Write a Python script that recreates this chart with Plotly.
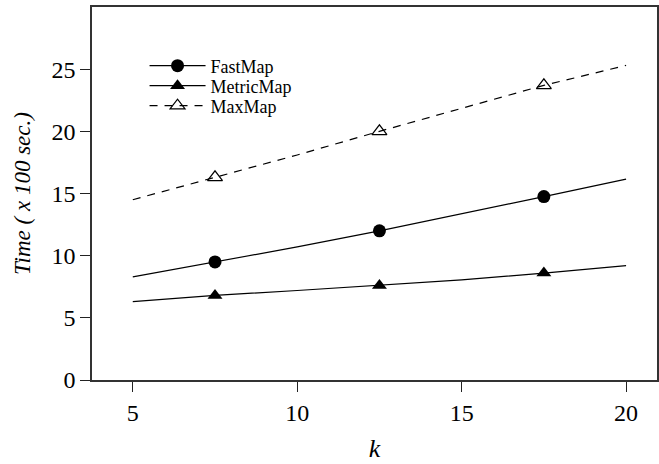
import plotly.graph_objects as go

k = [5, 7.5, 10, 12.5, 15, 17.5, 20]
fastmap = [8.3, 9.5, 10.7, 12.0, 13.35, 14.75, 16.15]
metricmap = [6.3, 6.8, 7.2, 7.6, 8.05, 8.6, 9.2]
maxmap = [14.5, 16.3, 18.1, 20.0, 21.85, 23.7, 25.3]
marked_points = [1, 3, 5]   # indices of k where markers are drawn (7.5, 12.5, 17.5)

x_ticks = [5, 10, 15, 20]
y_ticks = [0, 5, 10, 15, 20, 25]

FONT = "Liberation Serif, Times New Roman, serif"

fig = go.Figure()
series = [
    ("FastMap", fastmap, "circle", "solid", "legend"),
    ("MetricMap", metricmap, "triangle-up", "solid", "legend2"),
    ("MaxMap", maxmap, "triangle-up-open", "8px,7px", "legend3"),
]
for name, vals, sym, dash, leg in series:
    fig.add_trace(go.Scatter(
        x=k, y=vals, name=name, mode="lines+markers", legend=leg,
        line=dict(color="black", width=1.2, dash=dash),
        marker=dict(symbol=sym, size=13, color="black", opacity=1,
                    line=dict(width=1.2 if "open" in sym else 0, color="black")),
        selectedpoints=marked_points,
        selected=dict(marker=dict(opacity=1)),
        unselected=dict(marker=dict(opacity=0)),
    ))

leg_common = dict(x=0.093, xanchor="left", yanchor="middle",
                  bgcolor="rgba(0,0,0,0)", font=dict(size=18, family=FONT),
                  itemwidth=56)
row_y = [66, 86, 106]
def py(px):
    return (380 - px) / 373

fig.update_layout(
    width=659, height=464,
    margin=dict(l=92, r=0, t=7, b=84),
    paper_bgcolor="white", plot_bgcolor="white",
    font=dict(family=FONT, color="black", size=24),
    showlegend=True,
    legend=dict(y=py(row_y[0]), **leg_common),
    legend2=dict(y=py(row_y[1]), **leg_common),
    legend3=dict(y=py(row_y[2]), **leg_common),
    xaxis=dict(range=[3.76, 20.94], tickvals=x_ticks, ticks="outside",
               ticklen=10, tickcolor="#222", showgrid=False, zeroline=False,
               showline=True, linecolor="#333", linewidth=1.5, mirror=True,
               tickfont=dict(size=24),
               title=dict(text="<i>k</i>", font=dict(size=26), standoff=14)),
    yaxis=dict(range=[0, 30], tickvals=y_ticks, ticks="outside",
               ticklen=10, tickcolor="#222", showgrid=False, zeroline=False,
               showline=True, linecolor="#333", linewidth=1.5, mirror=True,
               tickfont=dict(size=24),
               title=dict(text="<i>Time ( x 100 sec.)</i>", font=dict(size=23), standoff=14)),
)

fig.write_html("out.html")
